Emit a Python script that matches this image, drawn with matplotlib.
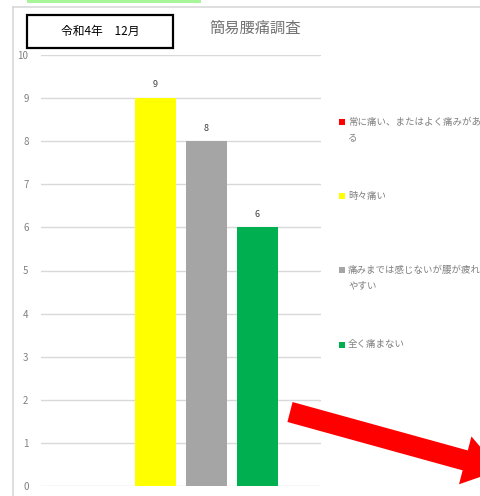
import numpy as np
import matplotlib.pyplot as plt
from matplotlib.patches import Rectangle, FancyArrow
from matplotlib.lines import Line2D

plt.rcParams['font.family'] = ['Noto Sans CJK JP', 'DejaVu Sans']

# data
series = ["常に痛い、またはよく痛みがある", "時々痛い", "痛みまでは感じないが腰が疲れやすい", "全く痛まない"]
legend_lines = [["常に痛い、またはよく痛みがあ", "る"],
                ["時々痛い"],
                ["痛みまでは感じないが腰が疲れ", "やすい"],
                ["全く痛まない"]]
values = [0, 9, 8, 6]
colors = ["#ff0000", "#ffff00", "#a5a5a5", "#00b050"]
title = "簡易腰痛調査"
box_label = "令和4年　12月"

W, H = 481, 496
fig = plt.figure(figsize=(W / 100, H / 100), dpi=100)

def fx(px):
    return px / W

def fy(py):
    return 1 - py / H

# outer frame lines and green strip
fig.add_artist(Line2D([fx(13), fx(13)], [fy(7), 0], color="#d9d9d9", lw=1.2))
fig.add_artist(Line2D([fx(13), 1], [fy(7), fy(7)], color="#d9d9d9", lw=1.2))
fig.add_artist(Rectangle((fx(27), fy(3)), fx(174), fy(0) - fy(3), color="#a9f59a", lw=0))

ax = fig.add_axes([fx(41), fy(486), fx(280), fy(55) - fy(486)])
pitch = 51 / 280
width = 41 / 280
for i, (v, c) in enumerate(zip(values, colors)):
    x = (i - 1.5) * pitch
    ax.bar(x, v, width=width, color=c, zorder=3)
    if v > 0:
        ax.text(x, v + 0.2, str(v), ha="center", va="bottom", fontsize=6.5, color="#404040")

ax.set_xlim(-0.5, 0.5)
ax.set_ylim(0, 10)
ax.set_yticks(range(0, 11))
ax.yaxis.grid(True, color="#d9d9d9", lw=1, zorder=0)
ax.set_xticks([])
for s in ax.spines.values():
    s.set_visible(False)
ax.tick_params(axis="y", length=0, labelsize=7, labelcolor="#808080", pad=9)

# title and date box
fig.text(fx(255), fy(28), title, ha="center", va="center", fontsize=11, color="#737373")
fig.add_artist(Rectangle((fx(27), fy(48)), fx(146), fy(15) - fy(48), fill=False,
                         edgecolor="black", lw=1.6))
fig.text(fx(100), fy(31), box_label, ha="center", va="center", fontsize=8.5, color="black")

# legend
leg_y = [122, 196, 270, 345]
for lines, c, y in zip(legend_lines, colors, leg_y):
    fig.add_artist(Rectangle((fx(339), fy(y + 3)), fx(6), fy(y - 3) - fy(y + 3), color=c, lw=0))
    for k, line in enumerate(lines):
        fig.text(fx(348), fy(y + k * 16), line, ha="left", va="center",
                 fontsize=6.8, color="#7f7f7f")

# red arrow
x0, y0 = 290, 412
x1, y1 = 500, 470
fig.add_artist(FancyArrow(fx(x0), fy(y0), fx(x1 - x0), fy(y1) - fy(y0),
                          width=fx(20) * 1.0, head_width=fx(48), head_length=fx(36),
                          length_includes_head=True, color="#ff0000", lw=0,
                          transform=fig.transFigure))

plt.savefig("out.png", dpi=100)
